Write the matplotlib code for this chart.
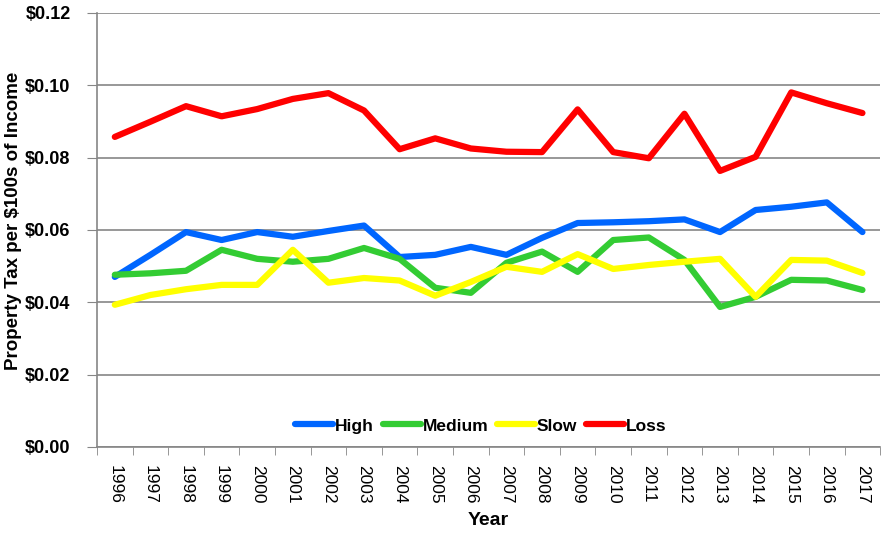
"""
Property tax per $100s of income, by growth group, 1996-2017
"""

import matplotlib.pyplot as plt
import numpy as np
from matplotlib.ticker import FuncFormatter, FixedLocator

plt.rcParams['font.family'] = ['Liberation Sans Narrow', 'Liberation Sans', 'DejaVu Sans']

years = [str(y) for y in range(1996, 2018)]

high = [0.0470, 0.0531, 0.0594, 0.0572, 0.0594, 0.0581, 0.0597, 0.0612, 0.0525, 0.0531,
        0.0553, 0.0531, 0.0578, 0.0619, 0.0621, 0.0624, 0.0629, 0.0594, 0.0655, 0.0664,
        0.0676, 0.0594]
medium = [0.0476, 0.0480, 0.0487, 0.0545, 0.0520, 0.0512, 0.0520, 0.0550, 0.0520, 0.0440,
          0.0426, 0.0509, 0.0540, 0.0484, 0.0572, 0.0579, 0.0517, 0.0387, 0.0415, 0.0462,
          0.0460, 0.0434]
slow = [0.0393, 0.0420, 0.0436, 0.0448, 0.0448, 0.0545, 0.0454, 0.0467, 0.0460, 0.0418,
        0.0456, 0.0498, 0.0484, 0.0533, 0.0492, 0.0503, 0.0512, 0.0520, 0.0415, 0.0517,
        0.0515, 0.0481]
loss = [0.0857, 0.0899, 0.0942, 0.0914, 0.0934, 0.0962, 0.0978, 0.0930, 0.0823, 0.0853,
        0.0825, 0.0816, 0.0815, 0.0933, 0.0815, 0.0798, 0.0921, 0.0763, 0.0802, 0.0980,
        0.0950, 0.0923]

series = [('High', high, '#0066ff'),
          ('Medium', medium, '#33cc33'),
          ('Slow', slow, '#ffff00'),
          ('Loss', loss, '#ff0000')]

fig = plt.figure(figsize=(8.82, 5.34), dpi=100)
ax = fig.add_axes([0.110, 0.163, 0.888, 0.813])

x = np.arange(len(years))
for name, vals, color in series:
    ax.plot(x, vals, color=color, linewidth=4.5, label=name, solid_capstyle='round')

ax.set_xlim(-0.5, len(years) - 0.5)
ax.set_ylim(0, 0.12)
ax.set_yticks(np.arange(0, 0.121, 0.02))
ax.yaxis.set_major_formatter(FuncFormatter(lambda v, p: f'${v:.2f}'))
ax.grid(axis='y', color='#868686', linewidth=1.2)
ax.set_axisbelow(True)

# 分类轴: 标签在中间, 刻度在分类之间
ax.set_xticks(x)
ax.set_xticklabels(years, rotation=-90, fontsize=12.5)
ax.tick_params(axis='x', which='major', length=0, pad=13)
ax.xaxis.set_minor_locator(FixedLocator(np.arange(-0.5, len(years), 1)))
ax.tick_params(axis='x', which='minor', length=6, color='#868686', direction='out')
ax.tick_params(axis='y', length=7, color='#868686', labelsize=13, pad=12)
for lab in ax.get_yticklabels():
    lab.set_fontweight('bold')

for side in ['top', 'right']:
    ax.spines[side].set_visible(False)
for side in ['left', 'bottom']:
    ax.spines[side].set_color('#868686')
    ax.spines[side].set_linewidth(1.2)

ax.set_xlabel('Year', fontsize=14, fontweight='bold', labelpad=6)
ax.set_ylabel('Property Tax per $100s of Income', fontsize=13.5, fontweight='bold')
ax.yaxis.set_label_coords(-0.096, 0.52)

ax.legend(loc='lower center', bbox_to_anchor=(0.49, -0.005), ncol=4, frameon=False,
          handlelength=2.2, handletextpad=0.1, columnspacing=0.5,
          prop={'weight': 'bold', 'size': 12.5})

fig.savefig('out.png', dpi=100, facecolor='white')
